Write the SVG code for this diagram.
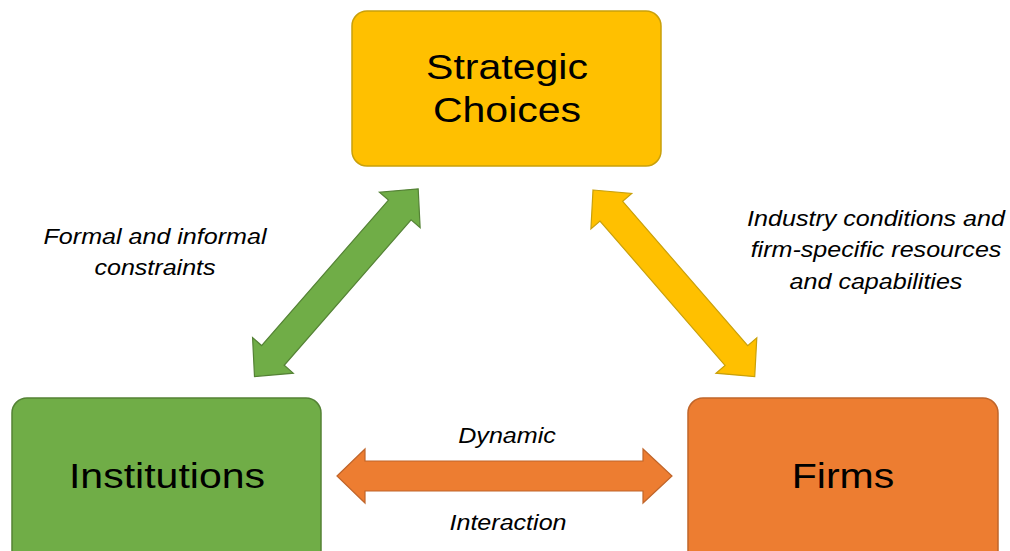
<svg xmlns="http://www.w3.org/2000/svg" width="1010" height="551" viewBox="0 0 1010 551">
<defs>
<style>
.box{stroke-width:1.5}
.title{font-family:"Liberation Sans",Arial,sans-serif;font-size:36px;fill:#000;text-anchor:middle}
.lbl{font-family:"Liberation Sans",Arial,sans-serif;font-size:22px;font-style:italic;fill:#000;text-anchor:middle}
.arr{stroke-width:1.2;stroke-linejoin:miter}
</style>
</defs>
<rect width="1010" height="551" fill="#fff"/>
<g id="strategic-choices">
<rect class="box" x="352" y="11" width="309" height="155" rx="15" fill="#FFC000" stroke="#C9A00A"/>
<text class="title" transform="translate(507,79) scale(1.14,1)">Strategic</text>
<text class="title" transform="translate(507,122) scale(1.14,1)">Choices</text>
</g>
<g id="institutions">
<rect class="box" x="12" y="398" width="309" height="170" rx="15" fill="#70AD47" stroke="#548235"/>
<text class="title" transform="translate(167,488) scale(1.14,1)">Institutions</text>
</g>
<g id="firms">
<rect class="box" x="688" y="398" width="310" height="170" rx="15" fill="#ED7D31" stroke="#C0652A"/>
<text class="title" transform="translate(843,488) scale(1.14,1)">Firms</text>
</g>
<g id="connectors">
<polygon class="arr" fill="#70AD47" stroke="#548235" transform="translate(254.5,376.5) rotate(-48.9)" points="0,0 28,-27 28,-15 221,-15 221,-27 249,0 221,27 221,15 28,15 28,27"/>
<polygon class="arr" fill="#FFC000" stroke="#C9A00A" transform="translate(593,190) rotate(49.1)" points="0,0 28,-27 28,-15 219,-15 219,-27 247,0 219,27 219,15 28,15 28,27"/>
<polygon class="arr" fill="#ED7D31" stroke="#C0652A" points="337,476 365,449 365,461 643,461 643,449 672,476 643,503 643,491 365,491 365,503"/>
</g>
<g id="labels">
<text class="lbl" transform="translate(155,244) scale(1.14,1)">Formal and informal</text>
<text class="lbl" transform="translate(155,275) scale(1.14,1)">constraints</text>
<text class="lbl" transform="translate(876,226) scale(1.14,1)">Industry conditions and</text>
<text class="lbl" transform="translate(876,257) scale(1.14,1)">firm-specific resources</text>
<text class="lbl" transform="translate(876,289) scale(1.14,1)">and capabilities</text>
<text class="lbl" transform="translate(507,443) scale(1.14,1)">Dynamic</text>
<text class="lbl" transform="translate(508,530) scale(1.14,1)">Interaction</text>
</g>
</svg>
